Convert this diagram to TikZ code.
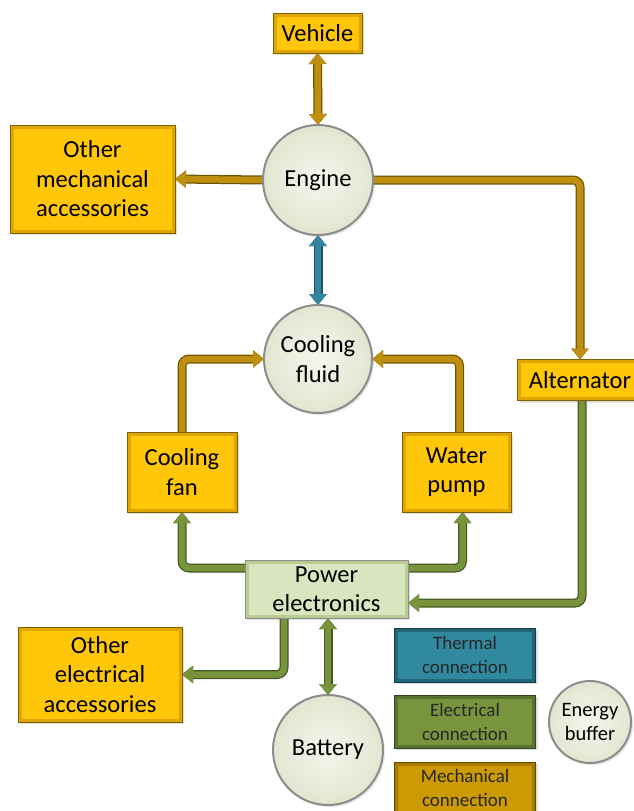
\documentclass[tikz,border=0pt]{standalone}
\usepackage{fontspec}
\setmainfont{Carlito}
\usetikzlibrary{arrows.meta,backgrounds,shadows,calc}
\definecolor{goldface}{HTML}{FFC60A}
\definecolor{goldedge}{HTML}{E0A600}
\definecolor{goldline}{HTML}{7F6000}
\definecolor{peface}{HTML}{D8E5BF}
\definecolor{peedge}{HTML}{B9CC94}
\definecolor{thface}{HTML}{3189A0}
\definecolor{thedge}{HTML}{23667A}
\definecolor{elface}{HTML}{78953D}
\definecolor{eledge}{HTML}{5A7230}
\definecolor{meface}{HTML}{CC9A05}
\definecolor{meedge}{HTML}{A67C00}
\definecolor{mechin}{HTML}{BF9010}
\definecolor{mechout}{HTML}{6E5300}
\definecolor{elecin}{HTML}{77933C}
\definecolor{elecout}{HTML}{455820}
\definecolor{thermin}{HTML}{31859C}
\definecolor{thermout}{HTML}{1D5363}
\definecolor{ballin}{HTML}{F4F6EC}
\definecolor{ballout}{HTML}{E2E6D0}
\tikzset{
  bevelbox/.style n args={3}{rectangle, draw=#3, line width=0.8pt, fill=#2,
    inner sep=0pt, outer sep=0pt, align=center,
    drop shadow={opacity=0.25, shadow xshift=2pt, shadow yshift=-2pt},
    path picture={\fill[#1] ([xshift=3.5pt,yshift=-3.5pt]path picture bounding box.north west) rectangle ([xshift=-3.5pt,yshift=3.5pt]path picture bounding box.south east);}},
  gbox/.style={bevelbox={goldface}{goldedge}{goldline}, font=\fontsize{24.5}{29.5}\selectfont},
  lbox/.style={bevelbox={#1face}{#1edge}{#1edge!60!black}, font=\fontsize{19}{24}\selectfont, text=black!85},
  ball/.style={circle, inner sep=0pt, outer sep=0pt, draw=black!45, line width=2pt,
    inner color=ballin, outer color=ballout, align=center,
    drop shadow={opacity=0.2, shadow xshift=2pt, shadow yshift=-2pt},
    font=\fontsize{24.5}{29.5}\selectfont},
  po/.style={line width=9pt, rounded corners=7pt},
  pin/.style={line width=6.5pt, rounded corners=7pt},
  eo/.style={-{Triangle[length=11pt,width=17pt]}},
  ei/.style={-{Triangle[length=9pt,width=13pt]}, shorten >=1.4pt},
  bo/.style={{Triangle[length=11pt,width=17pt]}-{Triangle[length=11pt,width=17pt]}},
  bi/.style={{Triangle[length=9pt,width=13pt]}-{Triangle[length=9pt,width=13pt]}, shorten >=1.4pt, shorten <=1.4pt},
}
\newcommand\onepipe[4]{%
  \draw[po,#1,#3] #4;
  \draw[pin,#2,#3] #4;}
\begin{document}
\begin{tikzpicture}[x=1pt,y=-1pt]
\useasboundingbox (0,0) rectangle (633,811);
% nodes
\node[gbox, minimum width=89pt, minimum height=40pt] (veh) at (317.5,33) {Vehicle};
\node[ball, minimum size=110pt] (eng) at (318,180) {Engine};
\node[gbox, minimum width=165pt, minimum height=108pt] (omech) at (92.5,179) {Other\\mechanical\\accessories};
\node[ball, minimum size=108pt] (cool) at (318,359) {Cooling\\fluid};
\node[gbox, minimum width=110pt, minimum height=80pt] (fan) at (182,472) {Cooling\\fan};
\node[gbox, minimum width=109pt, minimum height=80pt] (pump) at (456.5,472) {Water\\pump};
\node[gbox, minimum width=125pt, minimum height=41pt] (alt) at (580,380) {Alternator};
\node[bevelbox={peface}{peedge}{black!45}, font=\fontsize{24.5}{29.5}\selectfont, minimum width=163pt, minimum height=58pt] (pe) at (326.5,589) {Power\\electronics};
\node[gbox, minimum width=164pt, minimum height=95pt] (oelec) at (100,674.5) {Other\\electrical\\accessories};
\node[ball, minimum size=110pt] (bat) at (328,750) {Battery};
\node[lbox=th, minimum width=141pt, minimum height=54pt] (lth) at (465,655) {Thermal\\connection};
\node[lbox=el, minimum width=141pt, minimum height=53pt] (lel) at (465,721.5) {Electrical\\connection};
\node[lbox=me, minimum width=141pt, minimum height=52pt] (lme) at (465,788) {Mechanical\\connection};
\node[ball, minimum size=82pt, font=\fontsize{20.5}{24}\selectfont] (buf) at (590,722) {Energy\\buffer};
% connectors
\begin{pgfonlayer}{background}
\onepipe{mechout}{mechin}{bo}{(veh.south) -- (eng.north)}
\onepipe{mechout}{mechin}{eo}{(eng.west) -- (omech.east)}
\onepipe{mechout}{mechin}{eo}{(eng.east) -| (alt.north)}
\onepipe{thermout}{thermin}{bo}{(eng.south) -- (cool.north)}
\onepipe{mechout}{mechin}{eo}{(fan.north) |- (cool.west)}
\onepipe{mechout}{mechin}{eo}{([xshift=3pt]pump.north) |- (cool.east)}
\onepipe{elecout}{elecin}{eo}{([yshift=21pt]pe.west) -| (fan.south)}
\onepipe{elecout}{elecin}{eo}{([yshift=21pt]pe.east) -| ([xshift=6pt]pump.south)}
\onepipe{elecout}{elecin}{eo}{([xshift=2pt]alt.south) |- ([yshift=-14pt]pe.east)}
\onepipe{elecout}{elecin}{eo}{([xshift=-42.5pt]pe.south) |- (oelec.east)}
\onepipe{elecout}{elecin}{bo}{(bat.north |- pe.south) -- (bat.north)}
\end{pgfonlayer}
\end{tikzpicture}
\end{document}
